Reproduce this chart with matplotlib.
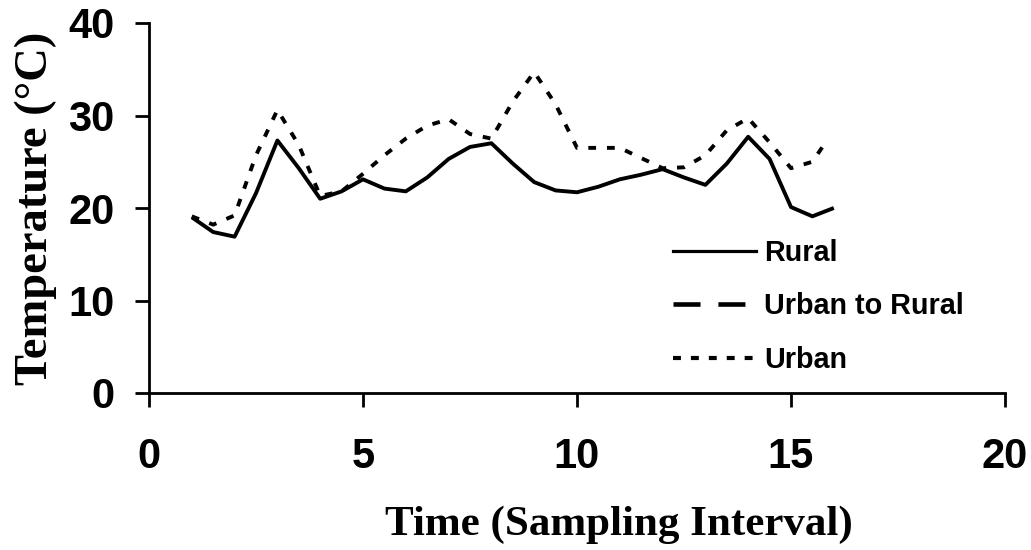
import matplotlib
matplotlib.use("Agg")
import matplotlib.pyplot as plt
from matplotlib.lines import Line2D

# Data
rural_x = [1, 1.5, 2, 2.5, 3, 3.5, 4, 4.5, 5, 5.5, 6, 6.5, 7, 7.5, 8, 8.5, 9, 9.5, 10,
           10.5, 11, 11.5, 12, 12.5, 13, 13.5, 14, 14.5, 15, 15.5, 16]
rural_y = [19.0, 17.4, 16.9, 21.6, 27.3, 24.3, 21.0, 21.8, 23.1, 22.1, 21.8, 23.3, 25.3,
           26.6, 27.0, 24.8, 22.8, 21.9, 21.7, 22.3, 23.1, 23.6, 24.2, 23.3, 22.5, 24.8,
           27.7, 25.3, 20.1, 19.1, 20.0]

urban_x = [1, 1.5, 2, 2.5, 3, 3.5, 4, 4.5, 5, 5.5, 6, 6.5, 7, 7.5, 8, 8.5, 9, 9.5, 10,
           10.5, 11, 11.5, 12, 12.5, 13, 13.5, 14, 14.5, 15, 15.5, 15.75]
urban_y = [19.1, 18.2, 19.2, 25.7, 30.6, 26.8, 21.3, 21.8, 23.7, 25.7, 27.5, 28.9, 29.6,
           28.0, 27.5, 31.5, 34.7, 31.2, 26.5, 26.5, 26.5, 25.4, 24.3, 24.4, 25.7, 28.4,
           29.7, 27.1, 24.3, 25.0, 26.7]

# "Urban to Rural" series is not visible in the reference (legend only)
urban_rural_x = []
urban_rural_y = []

series_names = ["Rural", "Urban to Rural", "Urban"]
xticks = [0, 5, 10, 15, 20]
yticks = [0, 10, 20, 30, 40]

fig = plt.figure(figsize=(10.31, 5.5), dpi=100)
ax = fig.add_axes([149 / 1031, 1 - 393 / 550, (1005 - 149) / 1031, (393 - 23) / 550])

lw = 2.8
ax.plot(rural_x, rural_y, color="black", lw=lw, solid_joinstyle="round",
        solid_capstyle="butt", label=series_names[0])
ax.plot(urban_rural_x, urban_rural_y, color="black", lw=lw, dashes=(5.5, 3.7),
        label=series_names[1])
ax.plot(urban_x, urban_y, color="black", lw=lw, dashes=(2.0, 2.8), label=series_names[2])

ax.set_xlim(0, 20)
ax.set_ylim(0, 40)
ax.set_xticks(xticks)
ax.set_yticks(yticks)

for s in ["top", "right"]:
    ax.spines[s].set_visible(False)
for s in ["left", "bottom"]:
    ax.spines[s].set_linewidth(2.0)

ax.tick_params(axis="both", direction="out", length=10, width=2.0)
ax.tick_params(axis="x", pad=22)
ax.tick_params(axis="y", pad=15)
for lab in ax.get_xticklabels() + ax.get_yticklabels():
    lab.set_fontfamily("Liberation Sans")
    lab.set_fontweight("bold")
    lab.set_fontsize(30)

ax.set_xlabel("Time (Sampling Interval)", family="Liberation Serif", weight="bold",
              size=31, labelpad=19)
ax.xaxis.set_label_coords((619 - 149) / 856, -(525 - 393) / 370)
ax.xaxis.label.set_verticalalignment("center")
ax.set_ylabel("Temperature (\u00b0C)", family="Liberation Serif", weight="bold",
              size=33.5, labelpad=8)

handles = [
    Line2D([], [], color="black", lw=2.3),
    Line2D([], [], color="black", lw=3.3, dashes=(5.9, 3.9)),
    Line2D([], [], color="black", lw=3.0, dashes=(1.9, 2.4)),
]
leg = ax.legend(handles, series_names, loc="upper left",
                bbox_to_anchor=(673 / 1031, 1 - 239 / 550), bbox_transform=fig.transFigure,
                frameon=False, prop=dict(family="Liberation Sans", weight="bold", size=20.7),
                handlelength=2.9, handletextpad=0.28, labelspacing=0.88, borderpad=0,
                borderaxespad=0)

fig.savefig("out.png", dpi=100)
